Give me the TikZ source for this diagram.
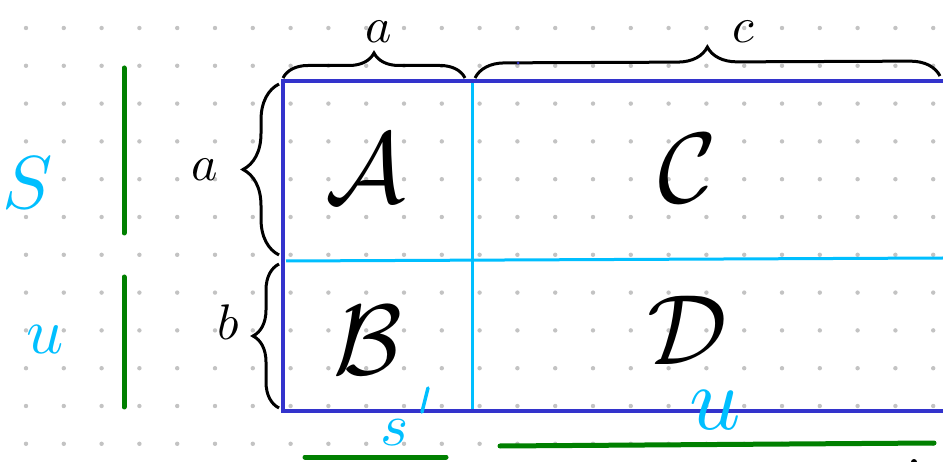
\documentclass[tikz,border=0pt]{standalone}
\usepackage{graphicx}
\usetikzlibrary{decorations.pathreplacing}
\definecolor{rectblue}{RGB}{51,51,204}
\definecolor{divcyan}{RGB}{0,191,255}
\definecolor{markgreen}{RGB}{0,128,0}
\definecolor{dotgray}{RGB}{195,195,195}
\newcommand{\sclx}[2]{\scalebox{#1}{#2}}
\tikzset{
  cell/.style={inner sep=0pt},
  dimlabel/.style={inner sep=0pt},
  cyanlabel/.style={inner sep=0pt, text=divcyan},
  greenbar/.style={draw=markgreen, line width=5pt, line cap=round},
  bluerule/.style={draw=rectblue, line width=3.5pt},
  cyanrule/.style={draw=divcyan, line width=3pt},
  bracestyle/.style={draw=black, line width=3pt, decorate, decoration={brace, amplitude=#1}},
}
\begin{document}
\begin{tikzpicture}[x=1pt, y=-1pt]
\useasboundingbox (0,0) rectangle (943,462);
\fill[white] (0,0) rectangle (943,462);
% dot grid
\foreach \i in {0,...,24}
  \foreach \j in {0,...,11}
    \fill[dotgray] ({26+37.8*\i},{28+37.8*\j}) circle (2.2pt);
% rectangle and dividers
\draw[cyanrule] (472,81) -- (472,411);
\draw[cyanrule] (286,261) -- (943,258);
\draw[bluerule] (943,81) -- (283,81) -- (283,411) -- (943,411);
% braces
\draw[bracestyle=25] (283,78) -- (465,78);
\draw[bracestyle=30] (475,78) -- (940,76);
\draw[bracestyle=36] (279,255) -- (279,84);
\draw[bracestyle=26] (279,408) -- (279,264);
% dimension labels
\node[dimlabel] (la) at (379,32) {\sclx{5}{$a$}};
\node[dimlabel] (lc) at (743,32) {\sclx{5}{$c$}};
\node[dimlabel] (lal) at (205,170) {\sclx{5}{$a$}};
\node[dimlabel] (lb) at (228,322) {\sclx{5}{$b$}};
% cell labels
\node[cell] (A) at (365,168) {\sclx{10}{$\mathcal{A}$}};
\node[cell] (C) at (688,168) {\sclx{10}{$\mathcal{C}$}};
\node[cell] (B) at (368,340) {\sclx{10}{$\mathcal{B}$}};
\node[cell] (D) at (687,330) {\sclx{10}{$\mathcal{D}$}};
% cyan labels
\node[cyanlabel] (S) at (28,183) {\sclx{7.5}{$S$}};
\node[cyanlabel] (ul) at (45,340) {\sclx{6.5}{$u$}};
\node[cyanlabel] (sb) at (395,433) {\sclx{6}{$s$}};
\node[cyanlabel] (ub) at (715,410) {\sclx{9}{$u$}};
\draw[draw=divcyan, line width=3.5pt, line cap=round] (428,388) -- (422,412);
% green bars
\draw[greenbar] (124,68) -- (124,233);
\draw[greenbar] (124,277) -- (124,407);
\draw[greenbar] (305,457) -- (446,457);
\draw[greenbar] (500,446) -- (934,443);
% stray marks
\fill[rectblue] (518,63) circle (1.5pt);
\fill[black] (914,462) circle (3pt);
\end{tikzpicture}
\end{document}
